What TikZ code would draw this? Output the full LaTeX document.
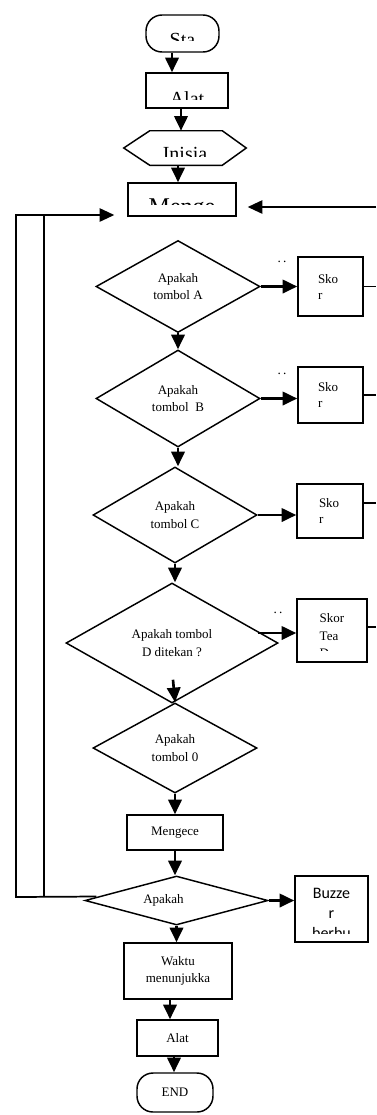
\documentclass[tikz,border=0pt]{standalone}
\usepackage{fontspec}
\setmainfont{Liberation Serif}
\newfontfamily\buzzfont{Carlito}
\usepackage{trimclip}
\usepackage{tikz}
\usetikzlibrary{arrows,arrows.meta,shapes,positioning,calc}

\begin{document}
\begin{tikzpicture}
        [
            x=0.75pt, y=-0.75pt,
            font=\fontsize{9.75}{13}\selectfont,
            box/.style={rectangle, draw, line width=1.1pt, inner sep=0pt},
            term/.style={box, rounded corners=12pt},
            decision/.style={diamond, draw, line width=1.1pt, inner sep=0pt, aspect=1.8, align=center},
            skor/.style={box, align=left, font=\fontsize{9.75}{12}\selectfont},
            bigtext/.style={font=\fontsize{15}{18}\selectfont},
            flow/.style={-{Triangle[width=10pt,length=11pt]}, line width=2pt},
            wire/.style={line width=1.3pt},
            backflow/.style={wire, -{Triangle[width=10pt,length=11pt]}},
            yadots/.style={font=\fontsize{10}{10}\selectfont, inner sep=0pt},
        ]
            \useasboundingbox (0,0) rectangle (376,1115);

            % main column
            \node[term, bigtext, minimum width=54.75pt, minimum height=27.75pt] (start) at (182.5,33.5) {\clipbox{0pt 4.7pt 0pt -4.5pt}{Sta}};
            \node[box, bigtext, minimum width=61.5pt, minimum height=26.25pt] (alat1) at (187,90.5) {\clipbox{0pt 5pt 0pt -7.6pt}{Alat}};
            \node[bigtext, minimum width=91.5pt, minimum height=25.5pt, inner sep=0pt] (inisia) at (185,148) {\clipbox{0pt 3.25pt 0pt -5.25pt}{Inisia}};
            \node[box, font=\fontsize{18}{21}\selectfont, minimum width=81pt, minimum height=24.75pt] (menge1) at (182,199.5) {\clipbox{0pt 11.3pt 0pt -3.75pt}{Menge}};

            \node[decision, minimum width=123pt, minimum height=69pt] (dA) at (178,286.5) {Apakah\\tombol A};
            \node[decision, minimum width=123pt, minimum height=72.75pt] (dB) at (178,398.5) {Apakah\\tombol~~B};
            \node[decision, minimum width=123pt, minimum height=72pt] (dC) at (175,515) {Apakah\\tombol C};
            \node[decision, minimum width=159pt, minimum height=90pt] (dD) at (172,643) {Apakah tombol\\D ditekan ?};
            \node[decision, minimum width=123pt, minimum height=67.5pt] (d0) at (175,748) {Apakah\\tombol 0};
            \node[box, minimum width=72pt, minimum height=26.25pt] (mengece) at (175,832.5) {Mengece};
            \node[decision, aspect=3.7, minimum width=137.25pt, minimum height=36.75pt] (dE) at (176.5,900.5) {Apakah\hspace*{19.5pt}};
            \node[box, align=center, minimum width=81pt, minimum height=42pt] (waktu) at (178,971) {Waktu\\menunjukka};
            \node[box, minimum width=60.75pt, minimum height=27pt] (alat2) at (177.5,1038) {Alat};
            \node[term, minimum width=57pt, minimum height=29.25pt] (finish) at (175,1092.5) {END};

            % side boxes
            \node[skor, text width=18.75pt, minimum width=48.75pt, minimum height=44.25pt] (skoA) at (330.5,286.5) {Sko\\r};
            \node[skor, text width=18.75pt, minimum width=48.75pt, minimum height=42pt] (skoB) at (330.5,395) {Sko\\r};
            \node[skor, text width=16.5pt, minimum width=49.5pt, minimum height=40.5pt] (skoC) at (330,511) {Sko\\r};
            \node[box, minimum width=52.5pt, minimum height=47.25pt] (skoD) at (332,630.5) {\clipbox{0pt 9.15pt 0pt 0pt}{\begin{tabular}{@{}l@{}}Skor\\Tea\\D\end{tabular}}};
            \node[box, font=\buzzfont\fontsize{12}{15}\selectfont, minimum width=54.75pt, minimum height=49.5pt] (buzzer) at (331.5,909) {\clipbox{0pt 8.8pt 0pt 0pt}{\begin{tabular}{@{}c@{}}Buzze\\r\\berbu\end{tabular}}};

            \node[yadots] (dotsA) at (282,262) {.\,.};
            \node[yadots] (dotsB) at (282,374) {.\,.};
            \node[yadots] (dotsD) at (278,613) {.\,.};

            \coordinate (rim) at (376,0);
            \coordinate (retR) at (376,207);
            \coordinate (loopTop) at (16,215);
            \coordinate (loopBot) at (16,897);
            \coordinate (innerTop) at (44,215);
            \coordinate (innerBot) at (44,897);
            \coordinate (dDout) at ($(dD.east)+(-21,-10)$);
            \coordinate (skoCout) at ($(skoC.east)+(0,-8)$);
            \coordinate (skoDout) at ($(skoD.east)+(0,-3.5)$);

            % hexagon
            \draw[line width=1.1pt] (inisia.west) -- ($(inisia.north west)+(26,0)$) -- ($(inisia.north east)+(-24,0)$)
                -- (inisia.east) -- ($(inisia.south east)+(-24,0)$) -- ($(inisia.south west)+(26,0)$) -- cycle;

            % flow
            \draw[flow] ($(start.south)+(-10.5,0)$) -- ($(alat1.north)+(-15,0)$);
            \draw[flow] ($(alat1.south)+(-6,0)$) -- ($(inisia.north)+(-4,0)$);
            \draw[flow] ($(inisia.south)+(-7,0)$) -- ($(menge1.north)+(-4,0)$);
            \draw[flow] (dA.south) -- (dB.north);
            \draw[flow] (dB.south) -- (dB.south |- dC.north);
            \draw[flow] (dC.south) -- (dC.south |- dD.north);
            \draw[flow] ($(dD.south)+(1,-24)$) -- (d0.north);
            \draw[flow] (d0.south) -- (d0.south |- mengece.north);
            \draw[flow] (mengece.south) -- (mengece.south |- dE.north);
            \draw[flow] (dE.south) -- (dE.south |- waktu.north);
            \draw[flow] ($(waktu.south)+(-8,0)$) -- ($(alat2.north)+(-7.5,0)$);
            \draw[flow] ($(alat2.south)+(-3.5,0)$) -- ($(finish.north)+(-1,0)$);

            \draw[flow] (dA.east) -- (skoA.west);
            \draw[flow] (dB.east) -- (dB.east -| skoB.west);
            \draw[flow] (dC.east) -- (dC.east -| skoC.west);
            \draw[flow] (dDout) -- (dDout -| skoD.west);
            \draw[flow] (dE.east) -- (dE.east -| buzzer.west);

            % lines out to the right
            \draw[wire] (skoA.east) -- (skoA.east -| rim);
            \draw[wire] (skoB.east) -- (skoB.east -| rim);
            \draw[wire] (skoCout) -- (skoCout -| rim);
            \draw[wire] (skoDout) -- (skoDout -| rim);
            \draw[backflow] (retR) -- ($(retR -| menge1.east)+(11,0)$);

            % loop back
            \draw[backflow] ($(dE.west)+(12,-4)$) -- (loopBot) -- (loopTop) -- ($(loopTop -| menge1.west)+(-13,0)$);
            \draw[wire] (innerBot) -- (innerTop);
        \end{tikzpicture}
\end{document}
